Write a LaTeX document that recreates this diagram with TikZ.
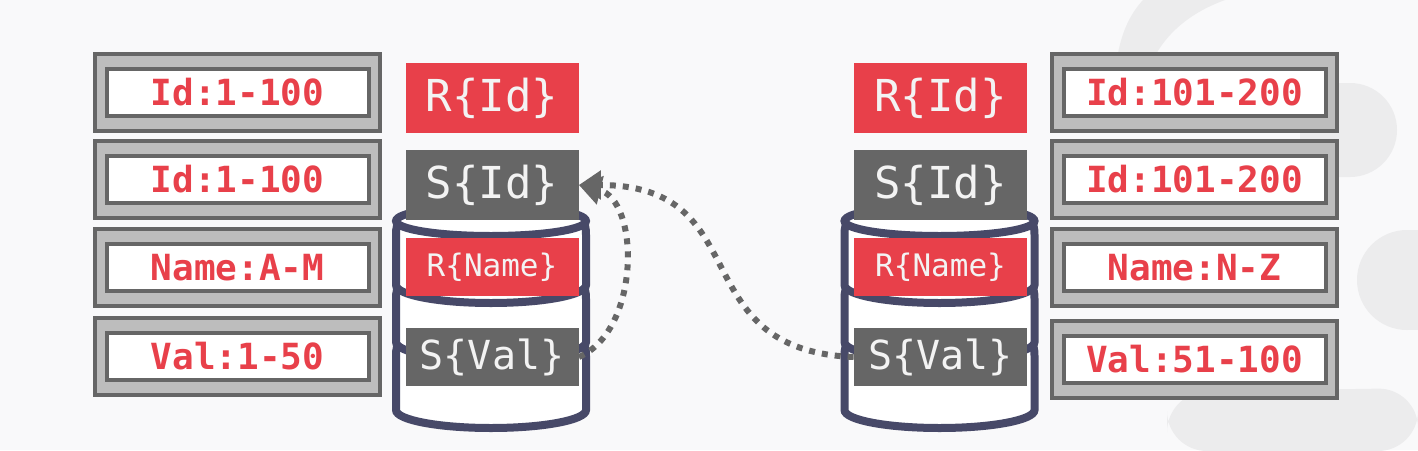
\documentclass[tikz,border=0pt]{standalone}
\usepackage{fontspec}
\usepackage{tikz}
\usetikzlibrary{arrows.meta}
\newfontfamily\monofont{DejaVu Sans Mono}
\definecolor{bg}{RGB}{249,249,250}
\definecolor{logo}{RGB}{236,236,237}
\definecolor{redtag}{RGB}{232,64,74}
\definecolor{graytag}{RGB}{102,102,102}
\definecolor{boxfill}{RGB}{189,189,189}
\definecolor{dbline}{RGB}{71,73,104}
\definecolor{tagtext}{RGB}{243,243,243}
\tikzset{font={\monofont}}

\begin{document}
\begin{tikzpicture}[x=0.5pt,y=-0.5pt,
rangeout/.style={draw=graytag,fill=boxfill,line width=2pt,inner sep=0pt,minimum width=142.5pt,minimum height=38.5pt},
rangein/.style={draw=graytag,fill=white,line width=2pt,inner sep=0pt,minimum width=131pt,minimum height=23.5pt,text=redtag,font={\monofont\bfseries\fontsize{18pt}{18pt}\selectfont}},
keytag/.style={fill=#1,text=tagtext,inner sep=0pt,minimum width=86.5pt,font={\monofont\fontsize{22pt}{22pt}\selectfont}},
dbstroke/.style={draw=dbline,fill=white,line width=4pt},
dotarrow/.style={draw=graytag,line width=3pt,dash pattern=on 3pt off 3.5pt,-{Triangle[length=11pt,width=14pt]}},
database/.pic={\foreach \t/\b in {342/410,285/342,221/285}
\filldraw[dbstroke] (-89,\t) .. controls (-95,\t+3) and (-95,\t+8) .. (-95,\t+14) -- (-95,\b)
  arc[start angle=180,end angle=360,x radius=47.5pt,y radius=9pt] -- (95,\t+14) .. controls (95,\t+8) and (95,\t+3) .. (89,\t);
\filldraw[dbstroke] (0,221) ellipse [x radius=47.5pt,y radius=7.5pt];}
]
\useasboundingbox (0,0) rectangle (1418,450);
\fill[bg] (0,0) rectangle (1418,450);

%logo in the background
\fill[logo] (1143,0) .. controls (1120,25) and (1113,60) .. (1113,120) -- (1140,120) .. controls (1140,60) and (1170,20) .. (1225,0) -- cycle;
\fill[logo] (1300,83) -- (1350,83) arc[start angle=-90,end angle=90,radius=47] -- (1300,177) -- cycle;
\fill[logo] (1407,280) circle (50);
\fill[logo] (1407,230) rectangle (1418,330);
\fill[logo,rounded corners=20] (1167,451) -- (1167,392) -- (1418,388) -- (1418,451) -- cycle;

%ranges
\foreach \n/\y/\t in {1/92.5/Id:1-100,2/179/Id:1-100,3/267.5/Name:A-M,4/356.5/Val:1-50}{
\node[rangeout] (lb\n) at (237.5,\y) {};
\node[rangein] (lr\n) at (lb\n) {\t};
}
\foreach \n/\y/\t in {1/92.5/Id:101-200,2/179/Id:101-200,3/267.5/Name:N-Z,4/359/Val:51-100}{
\node[rangeout] (rb\n) at (1194.5,\y) {};
\node[rangein] (rr\n) at (rb\n) {\t};
}

%nodes
\foreach \s/\x in {1/492,2/940.5}{
\pic at (\x-1,0) {database};
\node[keytag=redtag,minimum height=35pt] (rid\s) at (\x,98) {R\{Id\}};
\node[keytag=graytag,minimum height=35pt] (sid\s) at (\x,185) {S\{Id\}};
\node[keytag=redtag,minimum height=29pt,font={\monofont\fontsize{15.5pt}{15.5pt}\selectfont}] (rname\s) at (\x,267) {R\{Name\}};
\node[keytag=graytag,minimum height=29pt,font={\monofont\fontsize{20pt}{20pt}\selectfont}] (sval\s) at (\x,357) {S\{Val\}};
}

\draw[dotarrow] (sval1.east) .. controls +(62,-27) and +(61,15) .. (sid1.east);
\draw[dotarrow] (sval2.west) .. controls +(-173,-7) and +(181,0) .. (sid1.east);

\end{tikzpicture}
\end{document}
